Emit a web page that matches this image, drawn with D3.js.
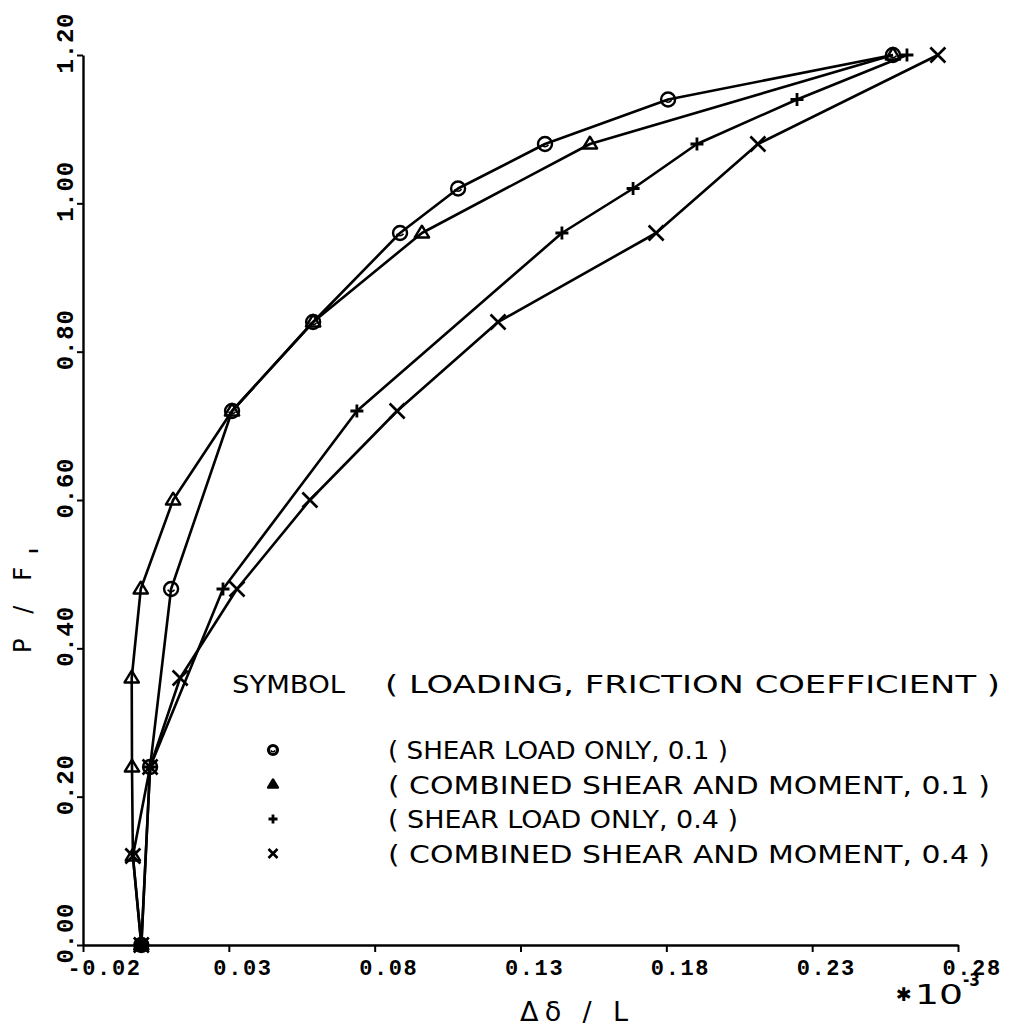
<!DOCTYPE html>
<html>
<head>
<meta charset="utf-8">
<script src="https://cdn.jsdelivr.net/npm/d3@7/dist/d3.min.js"></script>
<style>
  html, body { margin: 0; padding: 0; background: #fff; }
  svg { display: block; }
</style>
</head>
<body>
<svg id="chart" width="1010" height="1027"></svg>
<script>
// ---------- data ----------
// series: shear load only, friction 0.1 (circle)
const shear01_P = [0.00, 0.24, 0.48, 0.72, 0.84, 0.96, 1.02, 1.08, 1.14, 1.20];
const shear01_D = [0.000, 0.0030, 0.0102, 0.0311, 0.0589, 0.0887, 0.1086, 0.1384, 0.1806, 0.2577];

// series: combined shear and moment, friction 0.1 (triangle)
const comb01_P = [0.00, 0.12, 0.24, 0.36, 0.48, 0.60, 0.72, 0.84, 0.96, 1.08, 1.20];
const comb01_D = [0.000, -0.0029, -0.0032, -0.0033, -0.0002, 0.0109, 0.0311, 0.0589, 0.0962, 0.1538, 0.2577];

// series: shear load only, friction 0.4 (plus)
const shear04_P = [0.00, 0.24, 0.48, 0.72, 0.96, 1.02, 1.08, 1.14, 1.20];
const shear04_D = [0.000, 0.0030, 0.0280, 0.0739, 0.1442, 0.1686, 0.1905, 0.2248, 0.2625];

// series: combined shear and moment, friction 0.4 (cross)
const comb04_P = [0.00, 0.12, 0.24, 0.36, 0.48, 0.60, 0.72, 0.84, 0.96, 1.08, 1.20];
const comb04_D = [0.000, -0.0029, 0.0030, 0.0133, 0.0328, 0.0578, 0.0877, 0.1223, 0.1765, 0.2114, 0.2731];

const xTickValues = [-0.02, 0.03, 0.08, 0.13, 0.18, 0.23, 0.28];
const xTickLabels = ["-0.02", "0.03", "0.08", "0.13", "0.18", "0.23", "0.28"];
const yTickValues = [0.00, 0.20, 0.40, 0.60, 0.80, 1.00, 1.20];
const yTickLabels = ["0.00", "0.20", "0.40", "0.60", "0.80", "1.00", "1.20"];

const legendHeader = ["SYMBOL", "( LOADING, FRICTION COEFFICIENT )"];
const legendLabels = [
  "( SHEAR LOAD ONLY, 0.1 )",
  "( COMBINED SHEAR AND MOMENT, 0.1 )",
  "( SHEAR LOAD ONLY, 0.4 )",
  "( COMBINED SHEAR AND MOMENT, 0.4 )"
];
const legendSymbols = ["circle", "triangle", "plus", "cross"];

// ---------- build series table ----------
const series = [
  { sym: "circle",   P: shear01_P, D: shear01_D },
  { sym: "triangle", P: comb01_P,  D: comb01_D },
  { sym: "plus",     P: shear04_P, D: shear04_D },
  { sym: "cross",    P: comb04_P,  D: comb04_D }
].map(s => ({ sym: s.sym, pts: s.P.map((p, i) => ({ x: s.D[i], y: p })) }));

// ---------- layout ----------
const svg = d3.select("#chart");
const x = d3.scaleLinear().domain([-0.02, 0.28]).range([83, 958]);
const y = d3.scaleLinear().domain([0, 1.2]).range([945, 55]);

const tickFont = "'Liberation Mono', 'DejaVu Sans Mono', monospace";
const textFont = "'DejaVu Sans', 'Liberation Sans', sans-serif";

// ---------- axes ----------
const xAxis = d3.axisBottom(x).tickValues(xTickValues).tickSize(7).tickSizeOuter(0)
  .tickFormat((d, i) => xTickLabels[i]);
const gx = svg.append("g").attr("transform", `translate(0,${y(0)})`).call(xAxis);
gx.select(".domain").attr("stroke", "#000").attr("stroke-width", 2.4);
gx.selectAll(".tick line").attr("stroke", "#000").attr("stroke-width", 2);
gx.selectAll(".tick text")
  .attr("x", -16).attr("y", 30).attr("dy", null)
  .attr("text-anchor", "start")
  .attr("fill", "#000")
  .style("font-family", tickFont).style("font-size", "22px").style("font-weight", "bold")
  .style("letter-spacing", "1.6px");

const yAxis = d3.axisLeft(y).tickValues(yTickValues).tickSize(6).tickSizeOuter(0)
  .tickFormat((d, i) => yTickLabels[i]);
const gy = svg.append("g").attr("transform", `translate(${x(-0.02)},0)`).call(yAxis);
gy.select(".domain").attr("stroke", "#000").attr("stroke-width", 2.4);
gy.selectAll(".tick line").attr("stroke", "#000").attr("stroke-width", 2);
gy.selectAll(".tick text")
  .attr("transform", "rotate(-90)")
  .attr("x", -18).attr("y", -10).attr("dy", null)
  .attr("text-anchor", "start")
  .attr("fill", "#000")
  .style("font-family", tickFont).style("font-size", "24px").style("font-weight", "bold")
  .style("letter-spacing", "0.8px");

// axis titles
svg.append("text")
  .attr("x", 520).attr("y", 1021)
  .attr("textLength", 108).attr("lengthAdjust", "spacing")
  .style("font-family", textFont).style("font-size", "27px")
  .text("Δδ / L");

svg.append("text")
  .attr("x", 896).attr("y", 1001)
  .style("font-family", textFont).style("font-size", "19px").style("font-weight", "bold")
  .text("✱");
svg.append("text")
  .attr("x", 915).attr("y", 1004)
  .attr("textLength", 48).attr("lengthAdjust", "spacingAndGlyphs")
  .style("font-family", textFont).style("font-size", "27px")
  .text("10");
svg.append("text")
  .attr("x", 963).attr("y", 986)
  .attr("textLength", 17).attr("lengthAdjust", "spacingAndGlyphs")
  .style("font-family", textFont).style("font-size", "17px").style("font-weight", "bold")
  .text("-3");

const yTitle = svg.append("text")
  .attr("transform", "translate(31,653) rotate(-90)")
  .style("font-family", textFont).style("font-size", "24px");
yTitle.append("tspan").attr("textLength", 86).attr("lengthAdjust", "spacing").text("P / F");
yTitle.append("tspan").attr("dx", 5).attr("dy", 7).style("font-size", "13px").style("font-weight", "bold").text("I");

// ---------- lines ----------
const line = d3.line().x(d => x(d.x)).y(d => y(d.y));
svg.append("g").selectAll("path").data(series).join("path")
  .attr("d", s => line(s.pts))
  .attr("fill", "none").attr("stroke", "#000").attr("stroke-width", 2.6)
  .attr("stroke-linejoin", "round");

// ---------- markers ----------
function drawSymbol(g, sym, size, filled) {
  const s = size;
  if (sym === "circle") {
    g.append("circle").attr("r", s * 0.5)
      .attr("fill", filled ? "#fff" : "none").attr("stroke", "#000").attr("stroke-width", filled ? 3.2 : 2.4);
    g.append("path").attr("d", `M${-s*0.25},${s*0.05} Q0,${s*0.35} ${s*0.25},${s*0.05}`)
      .attr("fill", "none").attr("stroke", "#000").attr("stroke-width", 1.6);
  } else if (sym === "triangle") {
    const h = s * 0.9;
    g.append("path").attr("d", `M0,${-h*0.62} L${s*0.55},${h*0.38} L${-s*0.55},${h*0.38} Z`)
      .attr("fill", filled ? "#000" : "none").attr("stroke", "#000").attr("stroke-width", 2.4)
      .attr("stroke-linejoin", "round");
  } else if (sym === "plus") {
    g.append("path").attr("d", `M${-s*0.5},0 L${s*0.5},0 M0,${-s*0.5} L0,${s*0.5}`)
      .attr("stroke", "#000").attr("stroke-width", 2.8);
  } else if (sym === "cross") {
    g.append("path").attr("d", `M${-s*0.5},${-s*0.5} L${s*0.5},${s*0.5} M${-s*0.5},${s*0.5} L${s*0.5},${-s*0.5}`)
      .attr("stroke", "#000").attr("stroke-width", 2.6);
  }
}

const sizes = { circle: 14, triangle: 13, plus: 13, cross: 15 };
series.forEach(s => {
  s.pts.forEach(p => {
    const g = svg.append("g").attr("transform", `translate(${x(p.x)},${y(p.y)})`);
    drawSymbol(g, s.sym, sizes[s.sym], false);
  });
});

// origin: all series coincide -> plotted as a solid block
svg.append("rect")
  .attr("x", x(series[0].pts[0].x) - 6.5).attr("y", y(series[0].pts[0].y) - 6.5)
  .attr("width", 13).attr("height", 13).attr("fill", "#000");

// ---------- legend ----------
const legend = svg.append("g");
const legendStyle = t => t.style("font-family", textFont).style("font-size", "24px");
legend.append("text").attr("x", 232).attr("y", 693)
  .attr("textLength", 113).attr("lengthAdjust", "spacingAndGlyphs")
  .call(legendStyle).text(legendHeader[0]);
legend.append("text").attr("x", 385).attr("y", 693)
  .attr("textLength", 615).attr("lengthAdjust", "spacingAndGlyphs")
  .call(legendStyle).text(legendHeader[1]);

const legendWidths = [340, 602, 350, 602];
legendLabels.forEach((lab, i) => {
  const cy = 750 + i * 34.5;
  const g = legend.append("g").attr("transform", `translate(273,${cy})`);
  drawSymbol(g, legendSymbols[i], 9, true);
  legend.append("text").attr("x", 388).attr("y", cy + 9)
    .attr("textLength", legendWidths[i]).attr("lengthAdjust", "spacingAndGlyphs")
    .call(legendStyle).text(lab);
});
</script>
</body>
</html>
